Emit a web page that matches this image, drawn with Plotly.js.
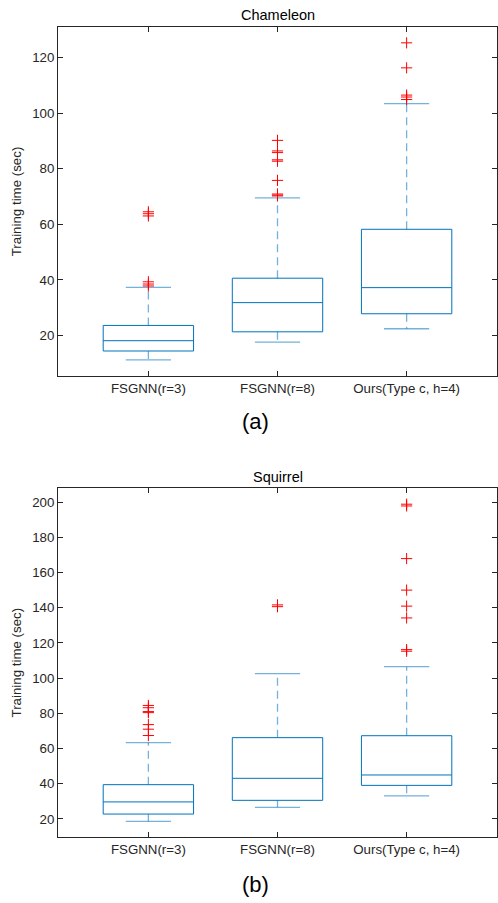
<!DOCTYPE html>
<html>
<head>
<meta charset="utf-8">
<script src="https://cdn.plot.ly/plotly-3.0.1.min.js"></script>
<style>html,body{margin:0;padding:0;background:#fff;}#chart{width:498px;height:903px;}</style>
</head>
<body>
<div id="chart"></div>
<script>
// ---- data ----
const categories = ["FSGNN(r=3)", "FSGNN(r=8)", "Ours(Type c, h=4)"];

// Chameleon
const chamLowerWhisker = [11.2, 17.6, 22.4];
const chamQ1 = [14.4, 21.3, 27.8];
const chamMedian = [18.1, 31.8, 37.2];
const chamQ3 = [23.6, 40.6, 58.2];
const chamUpperWhisker = [37.3, 69.5, 103.4];
const chamOutliers = [
  [64.5, 63.8, 63.0, 39.3, 38.5, 37.8],
  [90.2, 86.4, 85.8, 83.2, 82.7, 75.8, 70.9, 70.5, 70.2],
  [125.3, 116.3, 106.5, 105.8, 104.9]
];

// Squirrel
const sqLowerWhisker = [18.7, 26.6, 33.1];
const sqQ1 = [22.8, 30.6, 39.1];
const sqMedian = [29.7, 43.1, 45.0];
const sqQ3 = [39.5, 66.2, 67.3];
const sqUpperWhisker = [63.4, 102.6, 106.5];
const sqOutliers = [
  [84.5, 83.2, 81.0, 80.4, 73.6, 71.0, 67.4],
  [141.6, 140.6],
  [198.8, 197.8, 167.9, 150.0, 140.9, 134.2, 116.2, 115.3]
];

const chamTicks = [20, 40, 60, 80, 100, 120];
const sqTicks = [20, 40, 60, 80, 100, 120, 140, 160, 180, 200];

// ---- style ----
const BLUE = "#0072BD";
const WHISK = "rgba(0,114,189,0.55)";
const xpos = [1, 2, 3];
const capHalf = 0.175;
const boxWidth = 0.7;

function buildTraces(lw, q1, med, q3, uw, outl, xa, ya) {
  const traces = [];
  traces.push({
    type: "box", x: xpos, q1: q1, median: med, q3: q3,
    lowerfence: q1, upperfence: q3, width: boxWidth, whiskerwidth: 0,
    line: {color: BLUE, width: 1}, fillcolor: "rgba(0,0,0,0)",
    boxpoints: false, hoverinfo: "skip", xaxis: xa, yaxis: ya, showlegend: false
  });
  const wx = [], wy = [], cx = [], cy = [];
  xpos.forEach((x, i) => {
    wx.push(x, x, null, x, x, null);
    wy.push(q3[i], uw[i], null, q1[i], lw[i], null);
    cx.push(x - capHalf, x + capHalf, null, x - capHalf, x + capHalf, null);
    cy.push(uw[i], uw[i], null, lw[i], lw[i], null);
  });
  traces.push({type: "scatter", mode: "lines", x: wx, y: wy,
    line: {color: WHISK, width: 1.3, dash: "8px,5px"}, xaxis: xa, yaxis: ya, showlegend: false, hoverinfo: "skip"});
  traces.push({type: "scatter", mode: "lines", x: cx, y: cy,
    line: {color: WHISK, width: 1.3}, xaxis: xa, yaxis: ya, showlegend: false, hoverinfo: "skip"});
  const ox = [], oy = [];
  outl.forEach((arr, i) => arr.forEach(v => { ox.push(xpos[i]); oy.push(v); }));
  traces.push({type: "scatter", mode: "markers", x: ox, y: oy,
    marker: {symbol: "cross-thin", size: 8, color: "red", line: {color: "red", width: 1}},
    xaxis: xa, yaxis: ya, showlegend: false, hoverinfo: "skip"});
  return traces;
}

const data = [].concat(
  buildTraces(chamLowerWhisker, chamQ1, chamMedian, chamQ3, chamUpperWhisker, chamOutliers, "x", "y"),
  buildTraces(sqLowerWhisker, sqQ1, sqMedian, sqQ3, sqUpperWhisker, sqOutliers, "x2", "y2")
);

const H = 903, L = 58, R = 497;
const font = {family: "Liberation Sans, Arial, sans-serif", size: 13.3, color: "#262626"};
const axCommon = {
  showline: true, linecolor: "#262626", linewidth: 1, mirror: "ticks",
  ticks: "inside", ticklen: 5, tickcolor: "#262626", showgrid: false, zeroline: false,
  tickfont: font
};
function xAxis(anchor) {
  return Object.assign({}, axCommon, {range: [0.3, 3.7], tickvals: xpos, ticktext: categories,
    anchor: anchor, domain: [0, 1]});
}
function yAxis(range, ticks, top, bottom, anchor) {
  return Object.assign({}, axCommon, {range: range, tickvals: ticks, anchor: anchor,
    domain: [(H - bottom) / H, (H - top) / H],
    title: {text: "Training time (sec)", font: Object.assign({}, font, {size: 13.3}), standoff: 7}});
}

const layout = {
  width: 498, height: 903,
  margin: {l: L, r: 498 - R, t: 0, b: 0},
  paper_bgcolor: "#fff", plot_bgcolor: "#fff",
  font: font,
  xaxis: xAxis("y"),
  yaxis: yAxis([5.4, 131], chamTicks, 27, 376, "x"),
  xaxis2: xAxis("y2"),
  yaxis2: yAxis([9.6, 208], sqTicks, 488, 837.3, "x2"),
  annotations: [
    {text: "Chameleon", xref: "paper", yref: "paper", x: 0.5, y: (H - 15) / H, showarrow: false,
      font: {family: font.family, size: 14.5, color: "#000"}, yanchor: "middle"},
    {text: "Squirrel", xref: "paper", yref: "paper", x: 0.5, y: (H - 477) / H, showarrow: false,
      font: {family: font.family, size: 14.5, color: "#000"}, yanchor: "middle"},
    {text: "(a)", xref: "paper", yref: "paper", x: (255 - L) / (R - L), y: (H - 421) / H, showarrow: false,
      font: {family: font.family, size: 22, color: "#000"}, yanchor: "middle"},
    {text: "(b)", xref: "paper", yref: "paper", x: (255 - L) / (R - L), y: (H - 884) / H, showarrow: false,
      font: {family: font.family, size: 22, color: "#000"}, yanchor: "middle"}
  ]
};

Plotly.newPlot("chart", data, layout, {displayModeBar: false, staticPlot: true});
</script>
</body>
</html>
